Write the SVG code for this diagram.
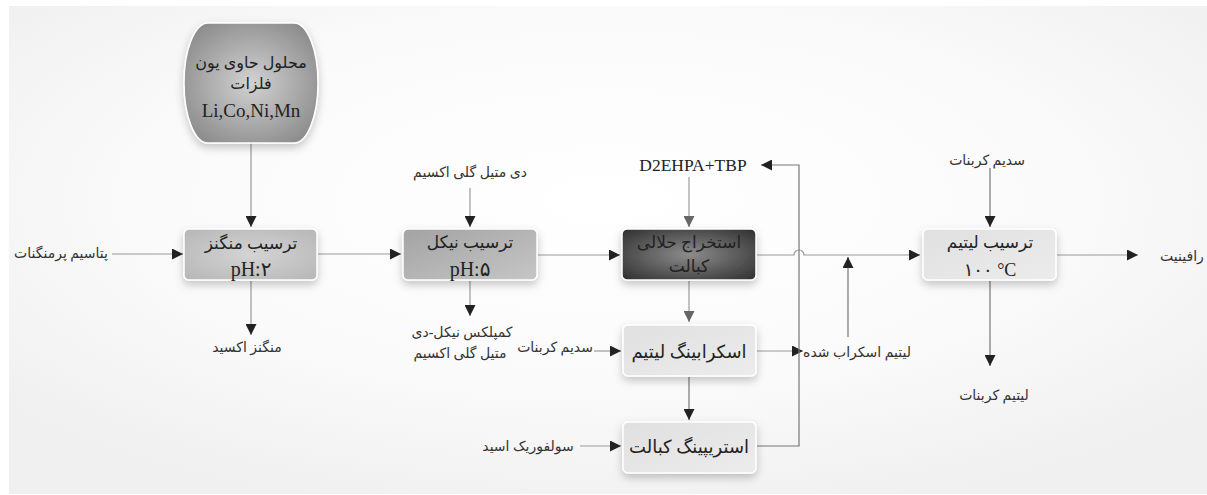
<svg xmlns="http://www.w3.org/2000/svg" width="1207" height="495" viewBox="0 0 1207 495">
<defs>
<radialGradient id="bg" cx="50%" cy="40%" r="65%">
<stop offset="0" stop-color="#ffffff"/>
<stop offset="0.6" stop-color="#fafafa"/>
<stop offset="1" stop-color="#f0f0f0"/>
</radialGradient>
<radialGradient id="gBarrel" cx="50%" cy="50%" r="60%">
<stop offset="0" stop-color="#d2d2d2"/>
<stop offset="1" stop-color="#8c8c8c"/>
</radialGradient>
<radialGradient id="gMn" cx="50%" cy="50%" r="70%">
<stop offset="0" stop-color="#d4d4d4"/>
<stop offset="1" stop-color="#b6b6b6"/>
</radialGradient>
<linearGradient id="gNi" x1="0" y1="0" x2="1" y2="1">
<stop offset="0" stop-color="#a3a3a3"/>
<stop offset="1" stop-color="#c6c6c6"/>
</linearGradient>
<radialGradient id="gEx" cx="50%" cy="50%" r="65%">
<stop offset="0" stop-color="#8c8c8c"/>
<stop offset="1" stop-color="#353535"/>
</radialGradient>
<linearGradient id="gLight" x1="0" y1="0" x2="1" y2="1">
<stop offset="0" stop-color="#e0e0e0"/>
<stop offset="1" stop-color="#ececec"/>
</linearGradient>
<filter id="sh" x="-20%" y="-30%" width="140%" height="170%">
<feDropShadow dx="0" dy="4" stdDeviation="4" flood-color="#000" flood-opacity="0.22"/>
</filter>
<marker id="ah" viewBox="0 0 10 10" refX="10" refY="5" markerWidth="11" markerHeight="11" markerUnits="userSpaceOnUse" orient="auto">
<path d="M0,0 L10,5 L0,10 Z" fill="#222"/>
</marker>
<marker id="ahg" viewBox="0 0 10 10" refX="10" refY="5" markerWidth="11" markerHeight="11" markerUnits="userSpaceOnUse" orient="auto">
<path d="M0,0 L10,5 L0,10 Z" fill="#666"/>
</marker>
<style>
.node{stroke:#ffffff;stroke-width:1.5;filter:url(#sh)}
.t{font-family:"Liberation Serif","DejaVu Sans",serif;fill:#222;text-anchor:middle}
.tn{font-size:17px}
.tl{font-size:14px;fill:#333}
.ln{fill:none;stroke:#9a9a9a;stroke-width:1.2}
.ld{fill:none;stroke:#777;stroke-width:1.2}
</style>
</defs>
<rect x="9" y="6" width="1198" height="488" fill="url(#bg)"/>

<g id="connectors">
<path class="ln" d="M251,143 V227" marker-end="url(#ah)"/>
<path class="ln" d="M112,254 H183" marker-end="url(#ah)"/>
<path class="ln" d="M251,281 V335" marker-end="url(#ah)"/>
<path class="ln" d="M318,254 H401" marker-end="url(#ah)"/>
<path class="ln" d="M470,188 V227" marker-end="url(#ah)"/>
<path class="ln" d="M470,281 V316" marker-end="url(#ah)"/>
<path class="ln" d="M538,255 H620" marker-end="url(#ah)"/>
<path class="ln" d="M689,177 V227" marker-end="url(#ahg)"/>
<path class="ln" d="M689,281 V322" marker-end="url(#ahg)"/>
<path class="ln" d="M757,255 H794 A5,5 0 0 1 804,255 H920" marker-end="url(#ah)"/>
<path class="ld" d="M848,337 V257" marker-end="url(#ah)"/>
<path class="ld" d="M990,168 V227" marker-end="url(#ah)"/>
<path class="ln" d="M1057,255 H1138" marker-end="url(#ah)"/>
<path class="ld" d="M990,281 V366" marker-end="url(#ah)"/>
<path class="ln" d="M594,351 H621" marker-end="url(#ah)"/>
<path class="ln" d="M757,351 H803" marker-end="url(#ah)"/>
<path class="ld" d="M689,377 V420" marker-end="url(#ah)"/>
<path class="ln" d="M580,446 H621" marker-end="url(#ah)"/>
<path class="ld" d="M757,446 H799 V165 H761" marker-end="url(#ah)"/>
</g>

<g id="n-source">
<rect class="node" x="184" y="23" width="134" height="120" rx="24" ry="60" fill="url(#gBarrel)"/>
<text class="t" x="251" y="68" font-size="16">محلول حاوی یون</text>
<text class="t" x="251" y="89" font-size="16">فلزات</text>
<text class="t" x="251" y="117" font-size="19">Li,Co,Ni,Mn</text>
</g>

<g id="n-mn">
<rect class="node" x="184" y="229" width="133" height="51" rx="5" fill="url(#gMn)"/>
<text class="t tn" x="251" y="249">ترسیب منگنز</text>
<text class="t" x="251" y="276" font-size="20">pH:۲</text>
</g>

<g id="n-ni">
<rect class="node" x="403" y="229" width="134" height="51" rx="5" fill="url(#gNi)"/>
<text class="t tn" x="470" y="248">ترسیب نیکل</text>
<text class="t" x="470" y="276" font-size="20">pH:۵</text>
</g>

<g id="n-ex">
<rect class="node" x="622" y="229" width="134" height="51" rx="5" fill="url(#gEx)"/>
<text class="t tn" x="689" y="248">استخراج حلالی</text>
<text class="t tn" x="689" y="272">کبالت</text>
</g>

<g id="n-li">
<rect class="node" x="923" y="229" width="133" height="51" rx="5" fill="url(#gLight)"/>
<text class="t tn" x="990" y="248">ترسیب لیتیم</text>
<text class="t" x="990" y="276" font-size="18" font-family="'DejaVu Sans',sans-serif">۱۰۰ °C</text>
</g>

<g id="n-scrub">
<rect class="node" x="623" y="325" width="133" height="51" rx="5" fill="url(#gLight)"/>
<text class="t" x="689" y="358" font-size="18">اسکرابینگ لیتیم</text>
</g>

<g id="n-strip">
<rect class="node" x="623" y="422" width="133" height="51" rx="5" fill="url(#gLight)"/>
<text class="t" x="689" y="453" font-size="18">استریپینگ کبالت</text>
</g>

<g id="labels">
<text class="t tl" x="61" y="258">پتاسیم پرمنگنات</text>
<text class="t tl" x="247" y="352">منگنز اکسید</text>
<text class="t tl" x="470" y="177">دی متیل گلی اکسیم</text>
<text class="t tl" x="462" y="337">کمپلکس نیکل-دی</text>
<text class="t tl" x="460" y="358">متیل گلی اکسیم</text>
<text class="t tl" x="555" y="352">سدیم کربنات</text>
<text class="t tl" x="528" y="451">سولفوریک اسید</text>
<text class="t" x="693" y="171" font-size="17.5">D2EHPA+TBP</text>
<text class="t tl" x="987" y="165">سدیم کربنات</text>
<text class="t tl" x="857" y="357">لیتیم اسکراب شده</text>
<text class="t tl" x="1182" y="261">رافینیت</text>
<text class="t tl" x="994" y="400">لیتیم کربنات</text>
</g>
</svg>
